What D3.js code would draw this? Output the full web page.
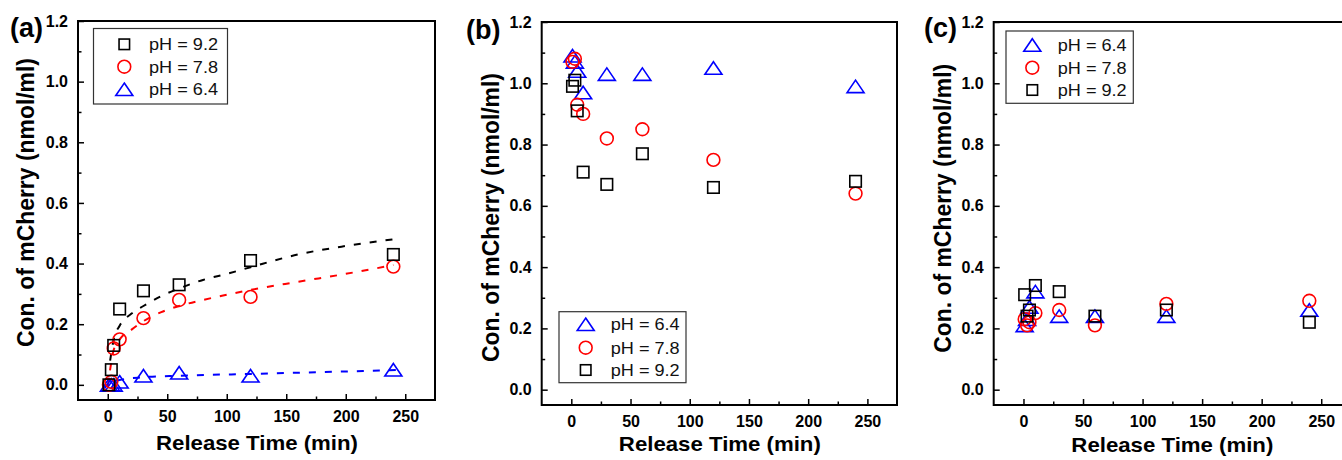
<!DOCTYPE html>
<html><head><meta charset="utf-8">
<script src="https://cdn.jsdelivr.net/npm/d3@7"></script>
<style>body{margin:0;background:#fff;} svg{display:block;font-family:Arial,"Liberation Sans",sans-serif;}</style>
</head><body><svg id="chart" width="1342" height="460"></svg>
<script>
// ---------------- data ----------------
const times = [1, 3, 5, 10, 30, 60, 120, 240];
const xTicks = [0, 50, 100, 150, 200, 250];
const xMinor = [25, 75, 125, 175, 225];
const yTicks = [0.0, 0.2, 0.4, 0.6, 0.8, 1.0, 1.2];
const yMinor = [0.1, 0.3, 0.5, 0.7, 0.9, 1.1];
const seriesNames = ["pH = 6.4", "pH = 7.8", "pH = 9.2"];

// panel (a)
const a_pH92 = [0.00, 0.05, 0.13, 0.25, 0.31, 0.33, 0.41, 0.43];
const a_pH78 = [0.00, 0.01, 0.12, 0.15, 0.22, 0.28, 0.29, 0.39];
const a_pH64 = [0.00, 0.00, 0.00, 0.01, 0.03, 0.04, 0.03, 0.05];
// dashed fit curves in (a)
const a_fit92_x = [2, 5, 10, 20, 30, 45, 60, 80, 100, 120, 160, 200, 240];
const a_fit92_y = [0.08, 0.15, 0.195, 0.235, 0.26, 0.293, 0.318, 0.346, 0.366, 0.388, 0.43, 0.458, 0.48];
const a_fit78_x = [0, 2, 5, 10, 20, 30, 45, 60, 80, 100, 120, 160, 200, 240];
const a_fit78_y = [-0.005, 0.05, 0.115, 0.15, 0.182, 0.21, 0.24, 0.26, 0.28, 0.297, 0.313, 0.34, 0.366, 0.395];
const a_fit64_x = [-4, 5, 10, 30, 60, 120, 180, 246];
const a_fit64_y = [-0.01, 0.01, 0.016, 0.025, 0.03, 0.036, 0.042, 0.049];

// panel (b)
const b_pH64 = [1.09, 1.07, 1.04, 0.97, 1.03, 1.03, 1.05, 0.99];
const b_pH78 = [1.07, 1.08, 0.93, 0.90, 0.82, 0.85, 0.75, 0.64];
const b_pH92 = [0.99, 1.01, 0.91, 0.71, 0.67, 0.77, 0.66, 0.68];

// panel (c)
const c_pH64 = [0.21, 0.23, 0.27, 0.32, 0.24, 0.24, 0.24, 0.26];
const c_pH78 = [0.23, 0.21, 0.22, 0.25, 0.26, 0.21, 0.28, 0.29];
const c_pH92 = [0.31, 0.24, 0.26, 0.34, 0.32, 0.24, 0.26, 0.22];

// ---------------- styles ----------------
const COLORS = {"pH = 6.4": "#0000ff", "pH = 7.8": "#ff0000", "pH = 9.2": "#000000"};
const SHAPES = {"pH = 6.4": "triangle", "pH = 7.8": "circle", "pH = 9.2": "square"};

const panels = [
  {label: "(a)", labelX: 10, labelY: 37, left: 78, top: 21, right: 435, bottom: 400,
   ytitleX: 33.5, ytitleCY: 202.5, xtitleY: 450,
   series: [["pH = 6.4", a_pH64], ["pH = 7.8", a_pH78], ["pH = 9.2", a_pH92]],
   fits: [["pH = 6.4", a_fit64_x, a_fit64_y], ["pH = 7.8", a_fit78_x, a_fit78_y], ["pH = 9.2", a_fit92_x, a_fit92_y]],
   legend: {x0: 93.5, y0: 28.5, x1: 227.5, y1: 104, mx: 124.3, tx: 149, rows: [44.3, 66.7, 89.3],
            order: ["pH = 9.2", "pH = 7.8", "pH = 6.4"]}},
  {label: "(b)", labelX: 466, labelY: 38.5, left: 541.7, top: 22, right: 897, bottom: 405,
   ytitleX: 498.5, ytitleCY: 217.5, xtitleY: 451,
   series: [["pH = 6.4", b_pH64], ["pH = 7.8", b_pH78], ["pH = 9.2", b_pH92]],
   fits: [],
   legend: {x0: 559, y0: 311.7, x1: 686, y1: 382.7, mx: 585.7, tx: 610.7, rows: [324.3, 347.7, 370],
            order: ["pH = 6.4", "pH = 7.8", "pH = 9.2"]}},
  {label: "(c)", labelX: 924, labelY: 37, left: 993.7, top: 22, right: 1351, bottom: 405,
   ytitleX: 951, ytitleCY: 208.3, xtitleY: 452,
   series: [["pH = 6.4", c_pH64], ["pH = 7.8", c_pH78], ["pH = 9.2", c_pH92]],
   fits: [],
   legend: {x0: 1006, y0: 31, x1: 1133.3, y1: 103.3, mx: 1032.3, tx: 1057.7, rows: [45, 67.7, 90],
            order: ["pH = 6.4", "pH = 7.8", "pH = 9.2"]}}
];

const svg = d3.select("#chart");

function marker(g, shape, cx, cy, color, legend) {
  const sw = 1.6;
  if (shape === "square") {
    const s = legend ? 10.5 : 11.5;
    g.append("rect").attr("x", cx - s / 2).attr("y", cy - s / 2).attr("width", s).attr("height", s)
      .attr("fill", "none").attr("stroke", color).attr("stroke-width", sw);
  } else if (shape === "circle") {
    g.append("circle").attr("cx", cx).attr("cy", cy).attr("r", 6.4)
      .attr("fill", "none").attr("stroke", color).attr("stroke-width", sw);
  } else {
    const w = 17, h = 12.5;
    g.append("path").attr("d", `M${cx},${cy - h / 2}L${cx + w / 2},${cy + h / 2}L${cx - w / 2},${cy + h / 2}Z`)
      .attr("fill", "none").attr("stroke", color).attr("stroke-width", sw).attr("stroke-linejoin", "miter");
  }
}

panels.forEach(p => {
  const g = svg.append("g");
  const x = d3.scaleLinear().domain([-25, 275]).range([p.left, p.right]);
  const y = d3.scaleLinear().domain([-0.05, 1.2]).range([p.bottom, p.top]);
  const W = p.right - p.left, H = p.bottom - p.top;

  // axes (ticks inward)
  const xAx = g.append("g").attr("transform", `translate(0,${p.bottom})`)
    .call(d3.axisBottom(x).tickValues(xTicks).tickSize(-6).tickPadding(0).tickFormat(d3.format("d")));
  xAx.select(".domain").remove();
  xAx.selectAll("line").attr("stroke", "#000").attr("stroke-width", 1.5);
  xAx.selectAll("text").attr("y", 21.5).attr("dy", null).attr("fill", "#000")
    .attr("font-size", 16).attr("font-weight", "bold").attr("font-family", "Arial, 'Liberation Sans', sans-serif");
  const xMin = g.append("g").attr("transform", `translate(0,${p.bottom})`)
    .call(d3.axisBottom(x).tickValues(xMinor).tickSize(-3.5).tickFormat(""));
  xMin.select(".domain").remove();
  xMin.selectAll("line").attr("stroke", "#000").attr("stroke-width", 1.5);

  const yAx = g.append("g").attr("transform", `translate(${p.left},0)`)
    .call(d3.axisLeft(y).tickValues(yTicks).tickSize(-6).tickPadding(10).tickFormat(d3.format(".1f")));
  yAx.select(".domain").remove();
  yAx.selectAll("line").attr("stroke", "#000").attr("stroke-width", 1.5);
  yAx.selectAll("text").attr("x", -10).attr("fill", "#000")
    .attr("font-size", 16).attr("font-weight", "bold").attr("font-family", "Arial, 'Liberation Sans', sans-serif");
  const yMin = g.append("g").attr("transform", `translate(${p.left},0)`)
    .call(d3.axisLeft(y).tickValues(yMinor).tickSize(-3.5).tickFormat(""));
  yMin.select(".domain").remove();
  yMin.selectAll("line").attr("stroke", "#000").attr("stroke-width", 1.5);

  // frame
  g.append("rect").attr("x", p.left).attr("y", p.top).attr("width", W).attr("height", H)
    .attr("fill", "none").attr("stroke", "#000").attr("stroke-width", 2);

  // fits
  p.fits.forEach(([name, xs, ys]) => {
    const pts = xs.map((v, i) => [v, ys[i]]);
    g.append("path").datum(pts)
      .attr("d", d3.line().x(d => x(d[0])).y(d => y(d[1])).curve(d3.curveMonotoneX))
      .attr("fill", "none").attr("stroke", COLORS[name]).attr("stroke-width", 2)
      .attr("stroke-dasharray", "7,9");
  });

  // markers
  p.series.forEach(([name, vals]) => {
    vals.forEach((v, i) => marker(g, SHAPES[name], x(times[i]), y(v), COLORS[name], false));
  });

  // legend
  const L = p.legend;
  g.append("rect").attr("x", L.x0).attr("y", L.y0).attr("width", L.x1 - L.x0).attr("height", L.y1 - L.y0)
    .attr("fill", "#fff").attr("stroke", "#333").attr("stroke-width", 1.2);
  L.order.forEach((name, i) => {
    marker(g, SHAPES[name], L.mx, L.rows[i], COLORS[name], true);
    g.append("text").attr("x", L.tx).attr("y", L.rows[i]).attr("dy", "0.36em")
      .attr("font-size", 17).attr("fill", "#111").attr("textLength", 69).attr("lengthAdjust", "spacingAndGlyphs")
      .text(name);
  });

  // titles
  g.append("text").attr("x", (p.left + Math.min(p.right, 1351)) / 2 + (p.label === "(c)" ? 0 : 0.5)).attr("y", p.xtitleY)
    .attr("text-anchor", "middle").attr("font-size", 21).attr("font-weight", "bold")
    .attr("textLength", 202).attr("lengthAdjust", "spacingAndGlyphs").text("Release Time (min)");
  g.append("text").attr("transform", `translate(${p.ytitleX},${p.ytitleCY}) rotate(-90)`)
    .attr("text-anchor", "middle").attr("font-size", 23).attr("font-weight", "bold")
    .attr("textLength", 289).attr("lengthAdjust", "spacingAndGlyphs").text("Con. of mCherry (nmol/ml)");
  g.append("text").attr("x", p.labelX).attr("y", p.labelY).attr("font-size", 27).attr("font-weight", "bold")
    .text(p.label);
});
</script></body></html>
